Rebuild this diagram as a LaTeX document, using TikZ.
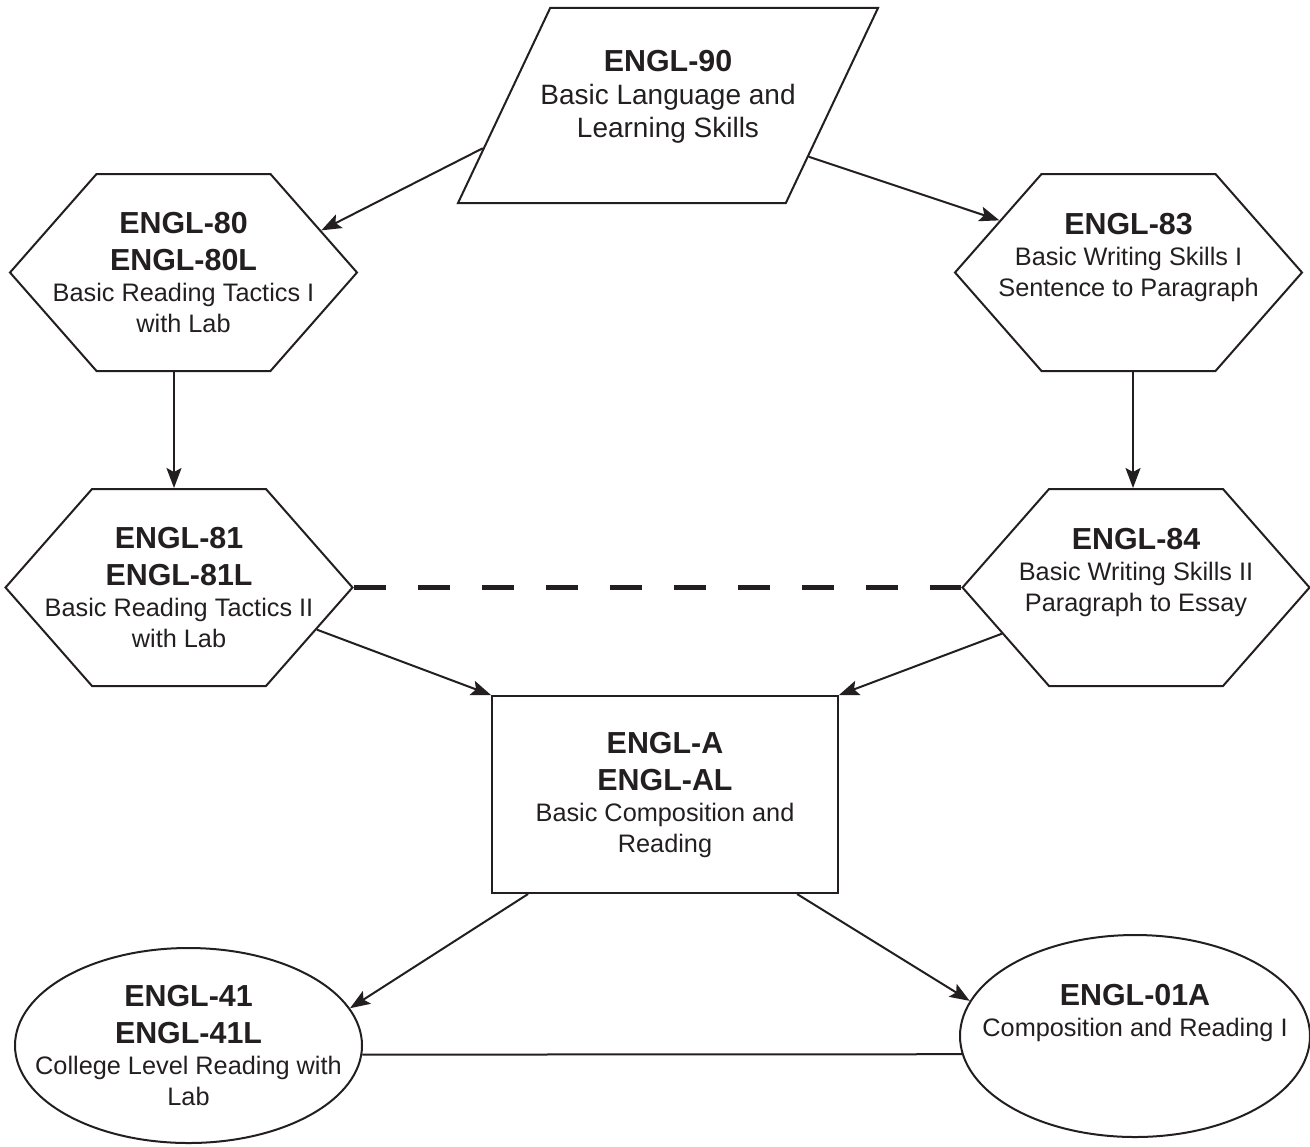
\documentclass[tikz,border=0pt]{standalone}
\usepackage{fontspec}
\setmainfont{Liberation Sans}
\usetikzlibrary{positioning, arrows.meta, shapes.geometric, shapes.symbols}

\definecolor{ink}{HTML}{231F20}
\newcommand{\coursecode}[1]{{\fontsize{15.2}{18}\selectfont\bfseries #1}}

\begin{document}
\begin{tikzpicture}[
		x=0.5pt, y=-0.5pt,
		>={Stealth[length=10pt, width=7.5pt, inset=2pt]}, % Arrow style
		every node/.style={draw=ink, line width=1pt, text=ink, align=center, font=\fontsize{12.65}{15.5}\selectfont},
		hexnode/.style={signal, signal to=west and east, signal pointer angle=97.4, minimum width=173.5pt, minimum height=98.5pt, inner xsep=-30pt, inner ysep=0pt},
		slantnode/.style={trapezium, trapezium left angle=64.7, trapezium right angle=115.3, trapezium stretches body=true, minimum width=210pt, minimum height=97.5pt, inner xsep=-20pt, inner ysep=21pt},
		boxnode/.style={rectangle, minimum width=173pt, minimum height=98.5pt, inner sep=0pt},
		ovalnode/.style={ellipse, inner xsep=-20pt, inner ysep=-5pt},
		link/.style={->, draw=ink, line width=1pt}
	]
	\useasboundingbox (0,0) rectangle (1310,1146);

	% Entry course
	\node[slantnode, font=\fontsize{14}{16.5}\selectfont, text depth=11.9pt] (p90) at (668,105.5)
		{\coursecode{ENGL-90}\\Basic Language and\\Learning Skills};

	% Reading track
	\node[hexnode] (h80) at (183.5,272.5)
		{\coursecode{ENGL-80}\\[3pt]\coursecode{ENGL-80L}\\Basic Reading Tactics I\\with Lab};
	\node[hexnode, below=58pt of h80, xshift=-2.25pt] (h81)
		{\coursecode{ENGL-81}\\[3pt]\coursecode{ENGL-81L}\\Basic Reading Tactics II\\with Lab};

	% Writing track
	\node[hexnode, text depth=17.6pt] (h83) at (1128.5,272.5)
		{\coursecode{ENGL-83}\\Basic Writing Skills I\\Sentence to Paragraph};
	\node[hexnode, text depth=17.6pt, below=58pt of h83, xshift=3.75pt] (h84)
		{\coursecode{ENGL-84}\\Basic Writing Skills II\\Paragraph to Essay};

	% Combined course
	\node[boxnode] (rA) at (665,794.5)
		{\coursecode{ENGL-A}\\[3pt]\coursecode{ENGL-AL}\\Basic Composition and\\Reading};

	% College level
	\node[ovalnode, minimum width=173.5pt, minimum height=97.5pt] (e41) at (188.5,1045.5)
		{\coursecode{ENGL-41}\\[3pt]\coursecode{ENGL-41L}\\College Level Reading with\\Lab};
	\node[ovalnode, minimum width=175pt, minimum height=101pt, text depth=25.7pt] (e01) at (1135,1036)
		{\coursecode{ENGL-01A}\\Composition and Reading I};

	% Connections
	\draw[link] (p90.193) -- (h80.17);
	\draw[link] (p90.-20) -- (h83.158);
	\draw[link] ([xshift=-4.75pt]h80.south) -- ([xshift=-4.75pt]h80.south |- h81.north);
	\draw[link] ([xshift=2.25pt]h83.south) -- ([xshift=2.25pt]h83.south |- h84.north);
	\draw[ink, line width=2.2pt, dash pattern=on 16pt off 16pt] (h81.east) -- (h84.west);
	\draw[link] (h81.-17) -- (rA.north west);
	\draw[link] (h84.199) -- (rA.north east);
	\draw[link] (rA.-144) -- (e41.13);
	\draw[link] (rA.-37) -- (e01.168);
	\draw[ink, line width=1pt] (e41.-3) -- (e01.186);

\end{tikzpicture}
\end{document}
